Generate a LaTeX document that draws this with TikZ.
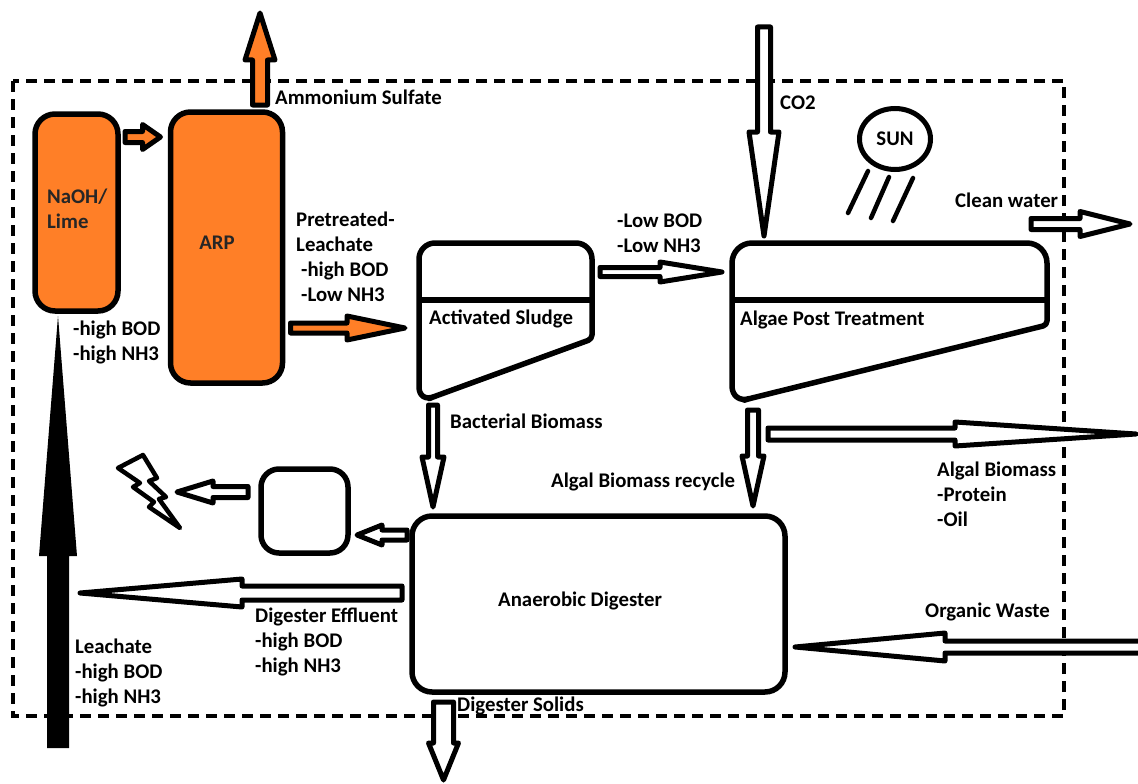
\documentclass[tikz,border=0pt]{standalone}
\usepackage{fontspec}
\setmainfont{Carlito}
\usepackage{xcolor}
\usepackage{tikz}
\usetikzlibrary{calc,shapes.geometric}
\definecolor{arporange}{HTML}{FF7F27}
\tikzset{
  proc/.style={draw,line width=5.5pt,outer sep=0pt,rounded corners=20pt,inner sep=0pt},
  lbl/.style={anchor=west,align=left,inner sep=0pt,yshift=-1pt,font=\fontsize{20.8}{25}\selectfont\bfseries},
  tank/.style={draw,line width=5.5pt,line join=round},
  flow/.style n args={3}{draw,fill=white,line width=5pt,line join=round,
    to path={let \p1=($(\tikztotarget)!#3!(\tikztostart)$) in
      ($(\tikztostart)!#1!90:(\tikztotarget)$) -- ($(\p1)!#1!90:(\tikztotarget)$)
      -- ($(\p1)!#2!90:(\tikztotarget)$) -- (\tikztotarget)
      -- ($(\p1)!#2!-90:(\tikztotarget)$) -- ($(\p1)!#1!-90:(\tikztotarget)$)
      -- ($(\tikztostart)!#1!-90:(\tikztotarget)$) -- cycle}},
}
\begin{document}
\begin{tikzpicture}[x=1pt,y=-1pt]
  \useasboundingbox (0,0) rectangle (1138,784);
  % system boundary
  \draw[line width=3.5pt,dash pattern=on 11pt off 7pt] (13,81) rectangle (1064,716);

  % process units
  \node[proc,fill=arporange,minimum width=83pt,minimum height=197pt] (lime) at (76.5,212.5) {};
  \node[proc,fill=arporange,minimum width=112pt,minimum height=271pt] (arp) at (226.5,247.5) {};
  \node[proc,minimum width=373pt,minimum height=176pt] (digester) at (598.5,604) {};
  \node[proc,rounded corners=18pt,minimum width=87pt,minimum height=84pt] (engine) at (304.5,511) {};
  \node[ellipse,draw,line width=5pt,outer sep=0pt,inner sep=0pt,minimum width=71pt,minimum height=61pt,
    font=\fontsize{20.8}{25}\selectfont\bfseries] (sun) at (895,139) {SUN};

  % settling tanks
  \draw[tank,rounded corners=16pt] (419,300) -- (419,243) -- (592,243)
    [rounded corners=4pt] -- (592,339) -- (433,397) [rounded corners=16pt] -- (419,403) -- (419,300) -- cycle;
  \draw[tank] (419,300) -- (592,300);
  \draw[tank,rounded corners=20pt] (732,300) -- (732,243) -- (1047,243)
    [rounded corners=4pt] -- (1047,325) -- (748,399) [rounded corners=18pt] -- (732,404) -- (732,300) -- cycle;
  \draw[tank] (732,300) -- (1047,300);

  \coordinate (sludgeE) at (600,272);
  \coordinate (sludgeW) at (405,328);
  \coordinate (sludgeS) at (433,405);
  \coordinate (algaeW) at (722,272);
  \coordinate (algaeN) at (764,236);
  \coordinate (algaeS) at (753,410);
  \coordinate (algaeE) at (768,434);
  \coordinate (co2in) at (764,27);
  \coordinate (ammout) at (260,13);
  \coordinate (waterin) at (1031,224);
  \coordinate (waterout) at (1130,224);
  \coordinate (biomassout) at (1136,434);
  \coordinate (wastein) at (1142,647);
  \coordinate (solidsout) at (443.5,780);
  \coordinate (leachin) at (58,748);
  \coordinate (boltin) at (177,492);
  \coordinate (recyclein) at (80,593);

  % flows
  \draw[flow={7.5pt}{15pt}{47pt},fill=arporange] ([shift={(33.5,-7)}]arp.north) to (ammout);
  \draw[flow={5.5pt}{12.5pt}{18pt},fill=arporange] ([shift={(7,-75.5)}]lime.east) to ([shift={(-10,-110.5)}]arp.west);
  \draw[flow={5pt}{12pt}{58pt},fill=arporange] ([shift={(8,80.5)}]arp.east) to (sludgeW);
  \draw[flow={4.5pt}{10pt}{62pt}] (sludgeE) to (algaeW);
  \draw[flow={6.5pt}{15pt}{104pt}] (co2in) to (algaeN);
  \draw[flow={5.5pt}{12.5pt}{50pt}] (waterin) to (waterout);
  \draw[flow={4.5pt}{11pt}{50pt}] (sludgeS) to ([shift={(-165.5,-9)}]digester.north);
  \draw[flow={5.5pt}{11pt}{50pt}] (algaeS) to ([shift={(154.5,-10)}]digester.north);
  \draw[flow={6pt}{12pt}{181pt}] (algaeE) to (biomassout);
  \draw[flow={6pt}{14pt}{150pt}] (wastein) to ([shift={(10,43)}]digester.east);
  \draw[flow={10pt}{15pt}{37pt}] ([shift={(-155,10)}]digester.south) to (solidsout);
  \draw[flow={5pt}{10pt}{25pt}] ([shift={(-5,-69)}]digester.west) to ([shift={(9,24)}]engine.east);
  \draw[flow={5.5pt}{11pt}{36pt}] ([shift={(-13,-19)}]engine.west) to (boltin);
  \draw[flow={7pt}{14pt}{162pt}] ([shift={(-10,-11)}]digester.west) to (recyclein);
  \fill (leachin) ++(-11,0) -- ++(0,-192) -- ++(-8,0) -- (58,316) -- (77,556) -- (69,556) -- (69,748) -- cycle;

  % power symbol and sun rays
  \draw[line width=4.5pt,line join=round,fill=white] (118,468) -- (143,455) -- (157,478) -- (149,481)
    -- (166,497) -- (159,499) -- (180,528) -- (149,507) -- (154,502) -- (133,487) -- (140,483) -- cycle;
  \draw[line width=4.5pt,line cap=round] (868,171) -- (848,213);
  \draw[line width=4.5pt,line cap=round] (889,177) -- (871,218);
  \draw[line width=4.5pt,line cap=round] (913,178) -- (893,221);

  % labels
  \node[lbl,text=black!85] (limetxt) at (47,208) {NaOH/\\Lime};
  \node[lbl,text=black!85,anchor=center] (arptxt) at (217,242) {ARP};
  \node[lbl] (ammtxt) at (275,96) {Ammonium Sulfate};
  \node[lbl] (co2txt) at (780,102) {CO2};
  \node[lbl] (watertxt) at (955,199) {Clean water};
  \node[lbl] (pretxt) at (296,256) {Pretreated-\\Leachate\\\hspace*{5pt}-high BOD\\\hspace*{5pt}-Low NH3};
  \node[lbl] (feedtxt) at (73,341) {-high BOD\\-high NH3};
  \node[lbl] (lowtxt) at (617,232) {-Low BOD\\-Low NH3};
  \node[lbl] (sludgetxt) at (429,318) {Activated Sludge};
  \node[lbl] (algaetxt) at (740,319) {Algae Post Treatment};
  \node[lbl] (bacttxt) at (450,420) {Bacterial Biomass};
  \node[lbl] (recycletxt) at (551,481) {Algal Biomass recycle};
  \node[lbl] (biomasstxt) at (937,493) {Algal Biomass\\-Protein\\-Oil};
  \node[lbl] (digtxt) at (498,600) {Anaerobic Digester};
  \node[lbl] (wastetxt) at (925,611) {Organic Waste};
  \node[lbl] (efftxt) at (255,641) {Digester Effluent\\-high BOD\\-high NH3};
  \node[lbl] (leachtxt) at (75,672) {Leachate\\-high BOD\\-high NH3};
  \node[lbl] (solidstxt) at (457,705) {Digester Solids};
\end{tikzpicture}
\end{document}
